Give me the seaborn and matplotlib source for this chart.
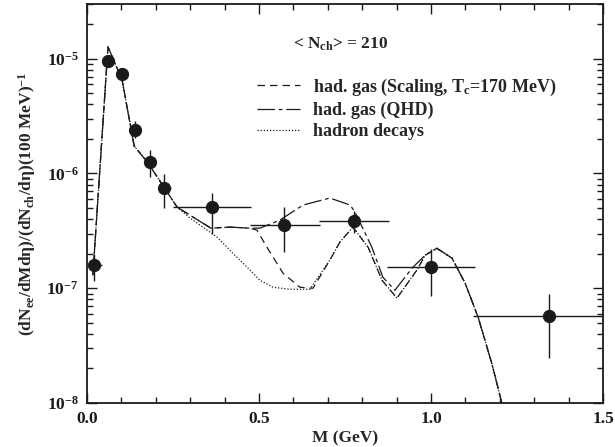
import numpy as np
import pandas as pd
import matplotlib
matplotlib.use("Agg")
import matplotlib.pyplot as plt
from matplotlib.lines import Line2D
from matplotlib.ticker import LogLocator, MultipleLocator, NullFormatter
import seaborn as sns

# ---- data ----
data_M = [0.02, 0.061, 0.102, 0.14, 0.183, 0.224, 0.363, 0.573, 0.775, 1.0, 1.343]
data_y = [1.58e-7, 9.6e-6, 7.4e-6, 2.4e-6, 1.26e-6, 7.46e-7, 5.09e-7, 3.55e-7, 3.85e-7, 1.52e-7, 5.69e-8]
data_ylo = [1.15e-7, 8.9e-6, 6.8e-6, 2.05e-6, 9.4e-7, 5.0e-7, 3.0e-7, 2.05e-7, 3.05e-7, 8.6e-8, 2.45e-8]
data_yhi = [2.0e-7, 1.05e-5, 8.1e-6, 2.85e-6, 1.6e-6, 9.9e-7, 6.7e-7, 5.15e-7, 4.7e-7, 2.2e-7, 8.9e-8]
data_xlo = [0.008, 0.05, 0.09, 0.125, 0.165, 0.205, 0.25, 0.474, 0.674, 0.872, 1.122]
data_xhi = [0.045, 0.075, 0.115, 0.155, 0.2, 0.245, 0.477, 0.677, 0.878, 1.128, 1.5]

common_M = [0.017, 0.061, 0.102, 0.137, 0.177, 0.262]
common_y = [1.30e-7, 1.27e-5, 6.55e-6, 1.74e-6, 1.24e-6, 5.09e-7]

phi_M = [0.983, 1.017, 1.061, 1.099, 1.137, 1.177, 1.206, 1.22]
phi_y = [1.94e-7, 2.23e-7, 1.83e-7, 1.11e-7, 5.6e-8, 2.2e-8, 1.0e-8, 7.5e-9]

scal_M = [0.360, 0.416, 0.474, 0.494, 0.523, 0.570, 0.619, 0.657, 0.706, 0.735,
          0.773, 0.817, 0.858, 0.901, 0.959]
scal_y = [3.34e-7, 3.41e-7, 3.34e-7, 3.21e-7, 2.28e-7, 1.35e-7, 1.02e-7, 1.0e-7, 1.76e-7, 2.52e-7,
          3.41e-7, 2.28e-7, 1.17e-7, 8.2e-8, 1.44e-7]

qhd_M = [0.360, 0.416, 0.474, 0.503, 0.561, 0.628, 0.706, 0.765, 0.779, 0.828, 0.860, 0.895, 0.945]
qhd_y = [3.34e-7, 3.41e-7, 3.34e-7, 3.34e-7, 3.93e-7, 5.31e-7, 6.11e-7, 5.31e-7, 4.61e-7, 2.28e-7,
         1.25e-7, 9.6e-8, 1.5e-7]

dec_M = [0.30, 0.378, 0.424, 0.474, 0.503, 0.541, 0.590, 0.648, 0.706, 0.735, 0.773, 0.817,
         0.858, 0.901, 0.959]
dec_y = [4.08e-7, 2.79e-7, 2.02e-7, 1.44e-7, 1.17e-7, 1.02e-7, 9.8e-8, 9.8e-8, 1.76e-7, 2.52e-7,
         3.41e-7, 2.28e-7, 1.17e-7, 8.2e-8, 1.44e-7]

labels = ["had. gas (Scaling, T$_{\\mathregular{c}}$=170 MeV)", "had. gas (QHD)", "hadron decays"]

# ---- style ----
sns.set_theme(style="ticks")
plt.rcParams["font.family"] = ["Liberation Serif", "DejaVu Serif"]
plt.rcParams["font.weight"] = "bold"
plt.rcParams["mathtext.fontset"] = "custom"
plt.rcParams["mathtext.rm"] = "Liberation Serif:bold"
plt.rcParams["mathtext.it"] = "Liberation Serif:bold"
plt.rcParams["mathtext.bf"] = "Liberation Serif:bold"
plt.rcParams["mathtext.default"] = "rm"

fig = plt.figure(figsize=(6.15, 4.47), dpi=100)
ax = fig.add_axes([87/615, 1-403/447, (603-87)/615, (403-4)/447])

def curve(M, y):
    return pd.DataFrame({"M": common_M + M + phi_M, "y": common_y + y + phi_y})

lw = 0.9
styles = {
    "scal": (0, (6, 4)),
    "qhd": (0, (14, 3, 3, 3)),
    "dec": (0, (1, 1.5)),
}
df_s = curve(scal_M, scal_y)
df_q = curve(qhd_M, qhd_y)
df_d = curve(dec_M, dec_y)
sns.lineplot(data=df_d, x="M", y="y", ax=ax, color="k", lw=lw, linestyle=styles["dec"],
             estimator=None, sort=False)
sns.lineplot(data=df_s, x="M", y="y", ax=ax, color="k", lw=lw, linestyle=styles["scal"],
             estimator=None, sort=False)
sns.lineplot(data=df_q, x="M", y="y", ax=ax, color="k", lw=lw, linestyle=styles["qhd"],
             estimator=None, sort=False)

dm = np.array(data_M); dy = np.array(data_y)
yerr = [dy - np.array(data_ylo), np.array(data_yhi) - dy]
xerr = [dm - np.array(data_xlo), np.array(data_xhi) - dm]
ax.errorbar(dm, dy, xerr=xerr, yerr=yerr, fmt="none", ecolor="k", elinewidth=1.0, capsize=0)
sns.scatterplot(x=data_M, y=data_y, ax=ax, color="k", s=78, edgecolor="k", zorder=5)

ax.set_yscale("log")
ax.set_xlim(0, 1.5)
ax.set_ylim(1e-8, 3.0e-5)

ax.xaxis.set_major_locator(MultipleLocator(0.5))
ax.xaxis.set_minor_locator(MultipleLocator(0.1))
ax.xaxis.set_major_formatter(matplotlib.ticker.FormatStrFormatter("%.1f"))
ax.yaxis.set_major_locator(LogLocator(base=10))
ax.yaxis.set_minor_locator(LogLocator(base=10, subs=np.arange(2, 10)))
ax.yaxis.set_minor_formatter(NullFormatter())
ax.tick_params(which="both", direction="in", top=True, right=True, width=1.0, colors="k")
ax.tick_params(which="major", length=7, labelsize=12.5, pad=6)
ax.tick_params(which="minor", length=4)
for sp in ax.spines.values():
    sp.set_linewidth(1.3)
    sp.set_color("k")

ax.set_xlabel("M (GeV)", fontsize=12.5, fontweight="bold", labelpad=2)
ax.set_ylabel(r"(dN$_{ee}$/dMd$\eta$)/(dN$_{ch}$/d$\eta$)(100 MeV)$^{-1}$",
              fontsize=12.5, fontweight="bold", labelpad=6)

ax.text(0.399, 0.90, r"< N$_{ch}$> = 210", transform=ax.transAxes, fontsize=12.5,
        fontweight="bold", va="center", ha="left")

handles = [Line2D([], [], color="k", lw=lw, linestyle=styles["scal"]),
           Line2D([], [], color="k", lw=lw, linestyle=styles["qhd"]),
           Line2D([], [], color="k", lw=lw, linestyle=styles["dec"])]
leg = ax.legend(handles, labels, loc="upper left", bbox_to_anchor=(0.329, 0.818),
                frameon=False, borderpad=0, borderaxespad=0, handlelength=2.4,
                handletextpad=0.7, labelspacing=0.22, prop={"size": 13, "weight": "bold"})

fig.savefig("out.png", dpi=100)
